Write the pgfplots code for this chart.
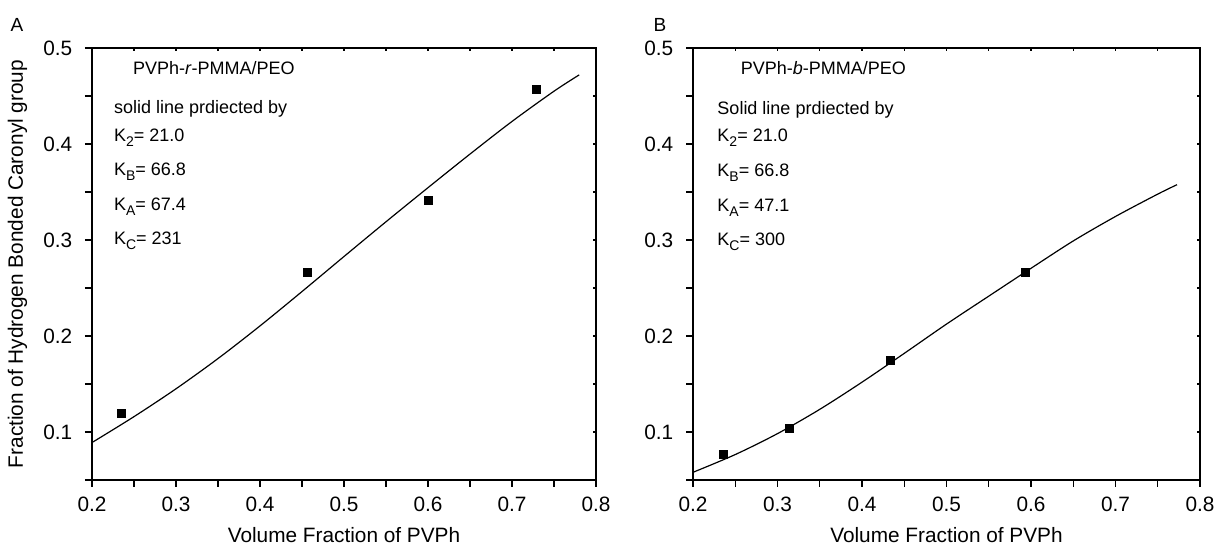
\documentclass[border=0pt]{standalone}
\usepackage{fontspec}
\setmainfont{Liberation Sans}
\usepackage{pgfplots}
\pgfplotsset{compat=1.18}

\pgfplotstableread{
x y
0.2350 0.119
0.4570 0.266
0.6000 0.341
0.7285 0.457
}\dataA
\pgfplotstableread{
x y
0.200 0.0890
0.250 0.1160
0.300 0.1450
0.350 0.1765
0.400 0.2105
0.450 0.2463
0.500 0.2828
0.550 0.3190
0.600 0.3545
0.650 0.3895
0.700 0.4235
0.750 0.4550
0.780 0.4720
}\fitA
\pgfplotstableread{
x y
0.2355 0.0770
0.3144 0.1040
0.4335 0.1750
0.5929 0.2660
}\dataB
\pgfplotstableread{
x y
0.2000 0.0580
0.2500 0.0765
0.3000 0.0983
0.3500 0.1236
0.4000 0.1519
0.4500 0.1819
0.5000 0.2124
0.5500 0.2415
0.6000 0.2705
0.6500 0.2990
0.7000 0.3245
0.7500 0.3478
0.7728 0.3576
}\fitB

\newcommand{\sub}[1]{\raisebox{-0.28em}{\fontsize{7}{8}\selectfont #1}}
\newcommand{\lbl}{\fontsize{10.4}{12}\selectfont}
\newcommand{\ann}{\fontsize{9}{11}\selectfont}

\pgfplotsset{
  panelbase/.style={
    scale only axis, height=216pt,
    xmin=0.2, xmax=0.8, ymin=0.05, ymax=0.5,
    clip=false,
    axis line style={line width=0.6pt, black},
    every tick/.style={line width=0.6pt, black},
    xtick={0.2,0.3,0.4,0.5,0.6,0.7,0.8},
    minor xtick={0.25,0.35,0.45,0.55,0.65,0.75},
    ytick={0.1,0.2,0.3,0.4,0.5},
    minor ytick={0.05,0.15,0.25,0.35,0.45},
    /pgf/number format/assume math mode=true,
  },
  panelmain/.style={
    panelbase,
    xtick pos=left, ytick pos=left, tick align=outside,
    major tick length=3.5pt, minor tick length=3.5pt,
    xticklabels={0.2,0.3,0.4,0.5,0.6,0.7,0.8},
    yticklabels={0.1,0.2,0.3,0.4,0.5},
    xticklabel style={font=\lbl, inner sep=0pt, anchor=north, yshift=-4.85pt},
    yticklabel style={font=\lbl, inner sep=0pt, anchor=east, xshift=-6.15pt},
  },
  panelinner/.style={
    panelbase,
    xtick pos=right, ytick pos=right, tick align=inside,
    major tick length=1.4pt, minor tick length=1.4pt,
    xticklabels={}, yticklabels={},
  },
}

\begin{document}
\begin{tikzpicture}
\useasboundingbox (0,0) rectangle (607.5pt,272.5pt);
% ---------- Panel A ----------
\begin{axis}[panelinner, width=252pt, at={(46pt,32.5pt)}, anchor=south west]
\end{axis}
\begin{axis}[panelmain, width=252pt, at={(46pt,32.5pt)}, anchor=south west,
  xlabel={Volume Fraction of PVPh},
  xlabel style={font=\lbl, at={(axis description cs:0.5,-0.1273)}, anchor=center},
  ylabel={Fraction of Hydrogen Bonded Caronyl group},
  ylabel style={font=\lbl, at={(axis description cs:-0.1478,0.5)}, anchor=center},
]
\addplot[black, line width=0.6pt, no marks, smooth] table[x=x,y=y] {\fitA};
\addplot[only marks, mark=square*, mark size=2pt, black] table[x=x,y=y] {\dataA};
\node[font=\fontsize{9.5}{11}\selectfont, anchor=center] at (axis description cs:-0.1488,1.0532) {A};
\node[font=\ann, anchor=base west, inner sep=0pt] at (axis cs:0.2484,0.4722) {PVPh-\textit{r}-PMMA/PEO};
\node[font=\ann, anchor=base west, inner sep=0pt] at (axis cs:0.2258,0.4320) {solid line prdiected by};
\node[font=\ann, anchor=base west, inner sep=0pt] at (axis cs:0.2258,0.4028) {K\sub{2}= 21.0};
\node[font=\ann, anchor=base west, inner sep=0pt] at (axis cs:0.2258,0.3670) {K\sub{B}= 66.8};
\node[font=\ann, anchor=base west, inner sep=0pt] at (axis cs:0.2258,0.3305) {K\sub{A}= 67.4};
\node[font=\ann, anchor=base west, inner sep=0pt] at (axis cs:0.2258,0.2951) {K\sub{C}= 231};
\end{axis}
% ---------- Panel B ----------
\begin{axis}[panelinner, width=253.5pt, at={(346.5pt,32.5pt)}, anchor=south west]
\end{axis}
\begin{axis}[panelmain, width=253.5pt, at={(346.5pt,32.5pt)}, anchor=south west,
  xlabel={Volume Fraction of PVPh},
  xlabel style={font=\lbl, at={(axis description cs:0.5,-0.1273)}, anchor=center},
]
\addplot[black, line width=0.6pt, no marks, smooth] table[x=x,y=y] {\fitB};
\addplot[only marks, mark=square*, mark size=2pt, black] table[x=x,y=y] {\dataB};
\node[font=\fontsize{9.5}{11}\selectfont, anchor=center] at (axis description cs:-0.0651,1.0532) {B};
\node[font=\ann, anchor=base west, inner sep=0pt] at (axis cs:0.2562,0.4725) {PVPh-\textit{b}-PMMA/PEO};
\node[font=\ann, anchor=base west, inner sep=0pt] at (axis cs:0.2285,0.4308) {Solid line prdiected by};
\node[font=\ann, anchor=base west, inner sep=0pt] at (axis cs:0.2285,0.4029) {K\sub{2}= 21.0};
\node[font=\ann, anchor=base west, inner sep=0pt] at (axis cs:0.2285,0.3660) {K\sub{B}= 66.8};
\node[font=\ann, anchor=base west, inner sep=0pt] at (axis cs:0.2285,0.3298) {K\sub{A}= 47.1};
\node[font=\ann, anchor=base west, inner sep=0pt] at (axis cs:0.2285,0.2944) {K\sub{C}= 300};
\end{axis}
\end{tikzpicture}
\end{document}
